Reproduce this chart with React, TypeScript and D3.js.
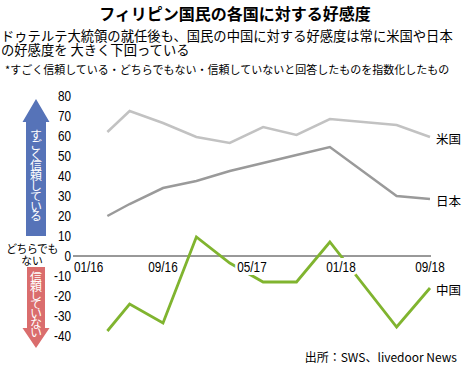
import React, { useRef, useEffect } from "react";
import * as d3 from "d3";

// survey month index, counted from 01/2016
const months = [3, 5, 8, 11, 14, 17, 20, 23, 29, 32];
const usa = [62, 72.5, 66.5, 59.5, 56.5, 64.5, 60.5, 68.5, 65.5, 59.5];
const japan = [20, 26, 34, 37.5, 42.5, 46.5, 50.5, 54.5, 30, 28.5];
const china = [-37.5, -24, -33.5, 9.5, -3.5, -13, -13, 7, -35.5, -16];

const tickMonths = [0, 8, 16, 24, 32];
const tickLabels = ["01/16", "09/16", "05/17", "01/18", "09/18"];
const yTicks = [80, 70, 60, 50, 40, 30, 20, 10, 0, -10, -20, -30, -40];

const seriesNames = ["米国", "日本", "中国"];
const seriesColors = ["#c2c2c2", "#9a9a9a", "#80b42f"];

const jp = "'Noto Sans CJK JP', 'Noto Sans', sans-serif";
const num = "'Liberation Sans', Arial, sans-serif";
const squeeze = 0.84; // numbers in the original are condensed

const App: React.FC = () => {
  const svgRef = useRef<SVGSVGElement>(null);

  useEffect(() => {
    if (!svgRef.current) return;
    const svg = d3.select(svgRef.current);
    svg.selectAll("*").remove();

    const width = 465;
    const height = 369;
    svg.attr("width", width).attr("height", height);

    const x = d3.scaleLinear().domain([0, 32]).range([74, 430]);
    const y = d3.scaleLinear().domain([-40, 80]).range([336, 96]);

    // titles
    svg
      .append("text")
      .attr("x", 235)
      .attr("y", 20)
      .attr("text-anchor", "middle")
      .style("font", `bold 16px ${jp}`)
      .text("フィリピン国民の各国に対する好感度");

    const sub = svg.append("g").style("font", `13.3px ${jp}`);
    sub.append("text").attr("x", 1).attr("y", 41)
      .text("ドゥテルテ大統領の就任後も、国民の中国に対する好感度は常に米国や日本");
    sub.append("text").attr("x", 1).attr("y", 55).text("の好感度を 大きく下回っている");

    svg
      .append("text")
      .attr("x", 5)
      .attr("y", 74)
      .style("font", `11px ${jp}`)
      .text("*すごく信頼している・どちらでもない・信頼していないと回答したものを指数化したもの");

    // arrows
    const cx = 36;
    svg
      .append("path")
      .attr("fill", "#5673b8")
      .attr("d", `M${cx},99 L${cx + 13.5},122 L${cx + 10},122 L${cx + 10},236 L${cx - 10},236 L${cx - 10},122 L${cx - 13.5},122 Z`);
    svg
      .append("path")
      .attr("fill", "#da6d6d")
      .attr("d", `M${cx - 9},267 L${cx + 9},267 L${cx + 9},328 L${cx + 13.5},328 L${cx},348 L${cx - 13.5},328 L${cx - 9},328 Z`);

    svg
      .append("text")
      .attr("x", cx)
      .attr("y", 129)
      .style("writing-mode", "vertical-rl")
      .style("font", `12px ${jp}`)
      .style("letter-spacing", "-1.8px")
      .attr("fill", "#fff")
      .text("すごく信頼している");
    svg
      .append("text")
      .attr("x", cx)
      .attr("y", 271)
      .style("writing-mode", "vertical-rl")
      .style("font", `12px ${jp}`)
      .style("letter-spacing", "-2.8px")
      .attr("fill", "#fff")
      .text("信頼していない");

    const mid = svg.append("g").attr("text-anchor", "middle").style("font", `10.8px ${jp}`);
    mid.append("text").attr("x", 32).attr("y", 253).style("letter-spacing", "-0.4px").text("どちらでも");
    mid.append("text").attr("x", 32).attr("y", 264.5).text("ない");

    // y tick labels
    svg
      .append("g")
      .selectAll("text")
      .data(yTicks)
      .join("text")
      .attr("transform", (d) => `translate(71,${y(d)}) scale(${squeeze},1)`)
      .attr("dy", "0.36em")
      .attr("text-anchor", "end")
      .style("font", `14px ${num}`)
      .text((d) => d);

    // zero line
    svg
      .append("line")
      .attr("x1", x(0) - 1)
      .attr("x2", x(32) + 1)
      .attr("y1", y(0))
      .attr("y2", y(0))
      .attr("stroke", "#333")
      .attr("stroke-width", 1);

    const line = d3
      .line<number>()
      .x((_, i) => x(months[i]))
      .y((d) => y(d));

    const series = [usa, japan, china];
    series.forEach((vals, i) => {
      svg
        .append("path")
        .datum(vals)
        .attr("fill", "none")
        .attr("stroke", seriesColors[i])
        .attr("stroke-width", i === 2 ? 2.8 : 2.5)
        .attr("stroke-linejoin", "miter")
        .attr("d", line);

      svg
        .append("text")
        .attr("x", x(months[months.length - 1]) + 6)
        .attr("y", y(vals[vals.length - 1]) + 2)
        .attr("dy", "0.36em")
        .style("font", `12.5px ${jp}`)
        .text(seriesNames[i]);
    });

    // x tick labels with white backing
    svg
      .append("g")
      .selectAll("text")
      .data(tickMonths)
      .join("text")
      .attr("transform", (d) => `translate(${x(d)},272) scale(${squeeze},1)`)
      .attr("text-anchor", (d, i) => (i === 0 ? "start" : "middle"))
      .style("font", `14px ${num}`)
      .attr("stroke", "#fff")
      .attr("stroke-width", 6)
      .attr("paint-order", "stroke")
      .text((d, i) => tickLabels[i]);

    svg
      .append("text")
      .attr("x", 457)
      .attr("y", 362)
      .attr("text-anchor", "end")
      .style("font", `12px ${jp}`)
      .text("出所：SWS、livedoor News");
  }, []);

  return (
    <svg
      ref={svgRef}
      style={{ position: "absolute", left: 0, top: 0, background: "#fff" }}
    />
  );
};

export default App;
